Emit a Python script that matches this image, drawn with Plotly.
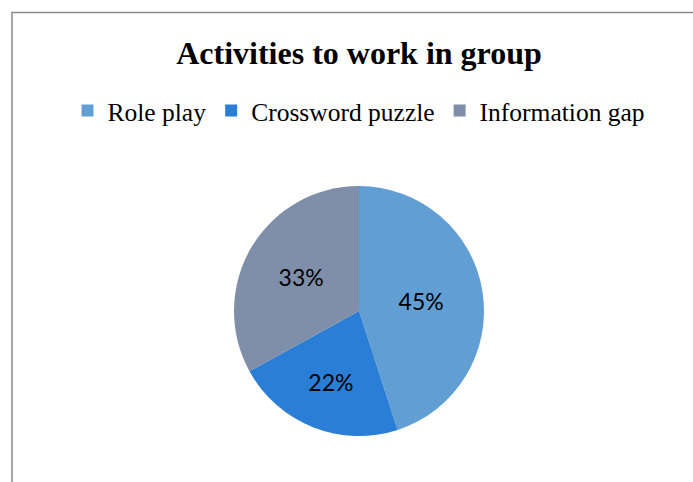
import plotly.graph_objects as go

# Share of students choosing each group activity (percent)
activities = ["Role play", "Crossword puzzle", "Information gap"]
shares = [45, 22, 33]
slice_colors = ["#619ED3", "#2A7ED6", "#7F8EA9"]

W, H = 693, 482

fig = go.Figure(
    go.Pie(
        labels=activities,
        values=shares,
        sort=False,
        direction="clockwise",
        rotation=0,
        marker=dict(colors=slice_colors, line=dict(width=0)),
        textinfo="percent",
        textposition="inside",
        insidetextorientation="horizontal",
        textfont=dict(family="Lato", size=23, color="black"),
        domain=dict(x=[234 / W, 484 / W], y=[(H - 436) / H, (H - 186) / H]),
        showlegend=True,
    )
)

fig.update_layout(
    width=W,
    height=H,
    margin=dict(l=0, r=0, t=0, b=0),
    paper_bgcolor="white",
    plot_bgcolor="white",
    title=dict(
        text="<b>Activities to work in group</b>",
        x=359 / W,
        xanchor="center",
        y=1 - 53 / H,
        yanchor="middle",
        font=dict(family="Liberation Serif", size=32, color="black"),
    ),
    legend=dict(
        orientation="h",
        x=359 / W,
        xanchor="center",
        y=1 - 111 / H,
        yanchor="middle",
        font=dict(family="Liberation Serif", size=25.5, color="black"),
        itemsizing="constant",
        bgcolor="rgba(0,0,0,0)",
    ),
    shapes=[
        dict(
            type="rect",
            xref="paper",
            yref="paper",
            x0=12 / W,
            x1=1.05,
            y0=-0.05,
            y1=1 - 12.5 / H,
            line=dict(color="#8a8a8a", width=1.5),
            fillcolor="rgba(0,0,0,0)",
            layer="below",
        )
    ],
)

fig.write_html("out.html")
